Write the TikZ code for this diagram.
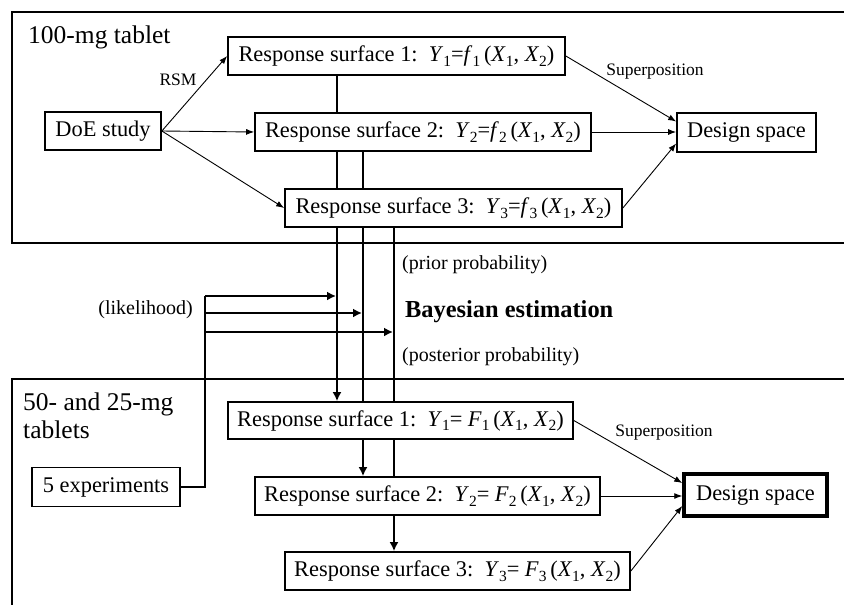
\documentclass[tikz,border=0pt]{standalone}
\usepackage{fontspec}
\setmainfont{Liberation Serif}
\usetikzlibrary{arrows.meta,backgrounds,calc}
\newcommand\bxf{\fontsize{22.4}{26}\selectfont}
\newcommand\frf{\fontsize{25.5}{28}\selectfont}
\newcommand\smf{\fontsize{20}{24}\selectfont}
\newcommand\tnf{\fontsize{17.5}{20}\selectfont}
\newcommand\bgf{\fontsize{24.4}{28}\selectfont\bfseries}
\newcommand\sy[2]{\textit{#1}\raisebox{-4.5pt}{\fontsize{15.5}{16}\selectfont #2}}
\begin{document}
\begin{tikzpicture}[x=1pt,y=-1pt,
  box/.style={draw,line width=1.7pt,fill=white,inner sep=0pt,font=\bxf},
  tarr/.style={line width=0.9pt,-{Latex[length=8pt,width=6pt]}},
  barr/.style={line width=2pt,-{Latex[length=9pt,width=9pt]}},
  bline/.style={line width=2pt},
  lbl/.style={inner sep=0pt}]
\useasboundingbox (0,0) rectangle (844,605);

% frames
\draw[line width=2pt] (844,12) -- (12,12) -- (12,243) -- (844,243);
\draw[line width=1.2pt] (844,379) -- (12,379) -- (12,605);

% frame labels
\node[lbl,font=\frf,anchor=base west] (upl) at (28,43) {100-mg tablet};
\node[lbl,font=\frf,anchor=north west,align=left] (lowl) at (23,393) {50- and 25-mg\\tablets};

% upper boxes
\node[box,minimum width=116pt,minimum height=38pt] (doe) at (103,131) {DoE study};
\node[box,minimum width=337pt,minimum height=38pt] (rs1u) at (396.5,56) {Response surface 1:\ \ \sy{Y}{1}=\sy{f}{1}\,(\sy{X}{1}, \sy{X}{2})};
\node[box,minimum width=336pt,minimum height=38pt] (rs2u) at (423,132) {Response surface 2:\ \ \sy{Y}{2}=\sy{f}{2}\,(\sy{X}{1}, \sy{X}{2})};
\node[box,minimum width=337pt,minimum height=38pt] (rs3u) at (453.5,208) {Response surface 3:\ \ \sy{Y}{3}=\sy{f}{3}\,(\sy{X}{1}, \sy{X}{2})};
\node[box,minimum width=139pt,minimum height=39pt] (dsu) at (746.5,132.5) {Design space};

% lower boxes
\node[box,minimum width=148pt,minimum height=39pt] (exp) at (106,487) {5 experiments};
\node[box,minimum width=345pt,minimum height=37pt] (rs1l) at (400.5,420.5) {Response surface 1:\ \ \sy{Y}{1}= \sy{F}{1}\,(\sy{X}{1}, \sy{X}{2})};
\node[box,minimum width=345pt,minimum height=38pt] (rs2l) at (427.5,496) {Response surface 2:\ \ \sy{Y}{2}= \sy{F}{2}\,(\sy{X}{1}, \sy{X}{2})};
\node[box,minimum width=345pt,minimum height=38pt] (rs3l) at (457.5,571) {Response surface 3:\ \ \sy{Y}{3}= \sy{F}{3}\,(\sy{X}{1}, \sy{X}{2})};
\node[box,line width=3.5pt,minimum width=143pt,minimum height=42pt] (dsl) at (755.5,495) {Design space};

% column coordinates
\coordinate (v1) at (337,0);
\coordinate (v2) at (363,0);
\coordinate (v3) at (394,0);
\coordinate (l1) at (205,296);
\coordinate (l2) at (205,313);
\coordinate (l3) at (205,332);

\begin{scope}[on background layer]
  \fill[white] (0,0) rectangle (844,605);
  \draw[barr] (rs1u.south -| v1) -- (rs1l.north -| v1);
  \draw[barr] (rs2u.south -| v2) -- (rs2l.north -| v2);
  \draw[barr] (rs3u.south -| v3) -- (rs3l.north -| v3);
\end{scope}

% DoE arrows
\draw[tarr] (doe.east) -- (rs1u.west);
\draw[tarr] (doe.east) -- (rs2u.west);
\draw[tarr] (doe.east) -- (rs3u.west);
\node[lbl,font=\tnf] (rsm) at (178,80) {RSM};

% superposition upper
\draw[tarr] (rs1u.east) -- ($(dsu.west)+(0,-11)$);
\draw[tarr] (rs2u.east) -- (rs2u.east -| dsu.west);
\draw[tarr] (rs3u.east) -- ($(dsu.west)+(0,11)$);
\node[lbl,font=\tnf] (supu) at (655,72) {Superposition};

% superposition lower
\draw[tarr] (rs1l.east) -- ($(dsl.west)+(0,-12)$);
\draw[tarr] (rs2l.east) -- (rs2l.east -| dsl.west);
\draw[tarr] (rs3l.east) -- ($(dsl.west)+(0,11)$);
\node[lbl,font=\tnf] (supl) at (664,433) {Superposition};

% likelihood
\draw[bline] (exp.east) -| (l1);
\draw[barr] (l1) -- ($(l1 -| v1)+(-1,0)$);
\draw[barr] (l2) -- ($(l2 -| v2)+(-1,0)$);
\draw[barr] (l3) -- ($(l3 -| v3)+(-1,0)$);
\node[lbl,font=\smf,anchor=east] (lik) at (193,310) {(likelihood)};

% Bayesian labels
\node[lbl,font=\smf,anchor=west] (prior) at (402,265) {(prior probability)};
\node[lbl,font=\bgf,anchor=west] (bayes) at (405,312) {Bayesian estimation};
\node[lbl,font=\smf,anchor=west] (post) at (402,357) {(posterior probability)};
\end{tikzpicture}
\end{document}
